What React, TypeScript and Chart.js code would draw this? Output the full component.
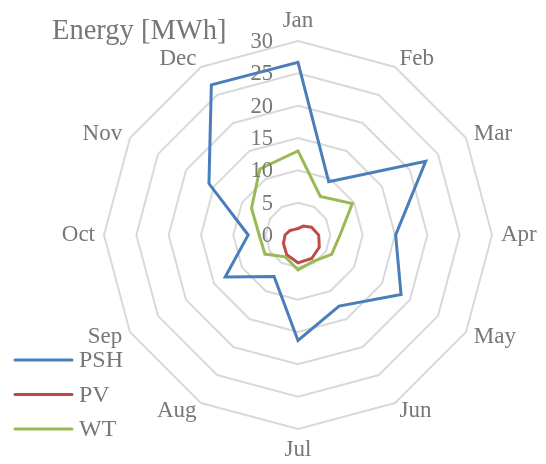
import React, { useEffect, useRef } from "react";
import { Chart, registerables } from "chart.js";

Chart.register(...registerables);

const categories = ["Jan", "Feb", "Mar", "Apr", "May", "Jun", "Jul", "Aug", "Sep", "Oct", "Nov", "Dec"];
const seriesNames = ["PSH", "PV", "WT"];
const pshValues = [26.7, 9.5, 22.8, 15.1, 18.4, 12.7, 16.3, 7.4, 13.0, 7.7, 15.9, 26.8];
const pvValues = [1.0, 1.6, 2.4, 3.2, 3.8, 4.2, 4.3, 3.5, 2.6, 2.0, 1.4, 1.0];
const wtValues = [13.0, 6.9, 9.7, 6.5, 6.0, 4.7, 5.4, 3.9, 5.9, 6.0, 8.3, 11.8];
const axisMin = 0;
const axisMax = 30;
const axisStep = 5;
const titleText = "Energy [MWh]";

const colors = ["#4A7EBB", "#BE4B48", "#98B954"];
const textColor = "#777777";
const fontFamily = "'Liberation Serif', 'Times New Roman', serif";

const textPlugin = {
  id: "excelText",
  afterDraw(chart: any) {
    const ctx = chart.ctx;
    const scale = chart.scales.r;
    ctx.save();
    ctx.fillStyle = textColor;

    // title
    ctx.font = `28.5px ${fontFamily}`;
    ctx.textAlign = "left";
    ctx.textBaseline = "alphabetic";
    ctx.fillText(titleText, 52, 39);

    // tick labels
    ctx.font = `22.5px ${fontFamily}`;
    ctx.textAlign = "right";
    ctx.textBaseline = "middle";
    scale.ticks.forEach((t: any) => {
      const d = scale.getDistanceFromCenterForValue(t.value);
      ctx.fillText(String(t.value), scale.xCenter - 25, scale.yCenter - d + 1);
    });

    // point labels
    ctx.font = `23px ${fontFamily}`;
    const labels = chart.data.labels;
    labels.forEach((lab: string, i: number) => {
      const p = scale.getPointPosition(i, scale.drawingArea + 9);
      const dx = p.x - scale.xCenter;
      const dy = p.y - scale.yCenter;
      if (Math.abs(dx) < 1) ctx.textAlign = "center";
      else ctx.textAlign = dx > 0 ? "left" : "right";
      if (Math.abs(dx) < 1) ctx.textBaseline = dy < 0 ? "bottom" : "top";
      else ctx.textBaseline = "middle";
      ctx.fillText(lab, p.x, p.y);
    });

    // legend
    ctx.font = `24px ${fontFamily}`;
    ctx.textAlign = "left";
    ctx.textBaseline = "middle";
    chart.data.datasets.forEach((ds: any, i: number) => {
      const y = 360 + i * 34.5;
      ctx.strokeStyle = ds.borderColor;
      ctx.lineWidth = 3;
      ctx.lineCap = "round";
      ctx.beginPath();
      ctx.moveTo(15, y);
      ctx.lineTo(72, y);
      ctx.stroke();
      ctx.fillStyle = textColor;
      ctx.fillText(ds.label, 79, y + 1);
    });
    ctx.restore();
  },
};

export default function App() {
  const ref = useRef<HTMLCanvasElement>(null);
  useEffect(() => {
    if (!ref.current) return;
    const chart = new Chart(ref.current, {
      type: "radar",
      data: {
        labels: categories,
        datasets: [pshValues, pvValues, wtValues].map((vals, i) => ({
          label: seriesNames[i],
          data: vals,
          borderColor: colors[i],
          backgroundColor: "transparent",
          borderWidth: 3,
          pointRadius: 0,
          fill: false,
          order: 2 - i,
        })),
      },
      options: {
        responsive: false,
        animation: false,
        devicePixelRatio: 1,
        plugins: { legend: { display: false }, tooltip: { enabled: false } },
        scales: {
          r: {
            min: axisMin,
            max: axisMax,
            ticks: { stepSize: axisStep, display: false },
            pointLabels: { display: false },
            angleLines: { display: false },
            grid: { color: "#d9d9d9", lineWidth: 2 },
            afterFit: (scale: any) => {
              scale.xCenter = 298;
              scale.yCenter = 235;
              scale.drawingArea = 194;
            },
          },
        },
      },
      plugins: [textPlugin],
    });
    return () => chart.destroy();
  }, []);
  return (
    <div style={{ position: "fixed", left: 0, top: 0, width: 546, height: 464, background: "#fff" }}>
      <canvas ref={ref} width={546} height={464} style={{ display: "block" }} />
    </div>
  );
}
